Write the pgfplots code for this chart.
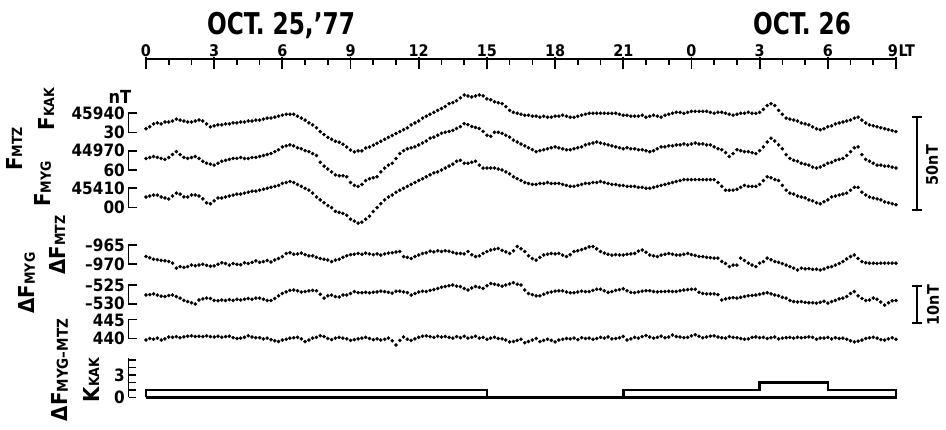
\documentclass[border=0pt]{standalone}
\usepackage{fontspec}
\setmainfont{DejaVu Sans Condensed}
\usepackage{pgfplots}
\pgfplotsset{compat=1.18}
\usepackage{pgfplotstable}

% 10-minute values, 0 LT Oct 25 to 9 LT Oct 26
\pgfplotstableread[row sep=\\]{v\\
45932\\45933\\45934.5\\45935\\45934.5\\45935.5\\45935.5\\45936\\45937\\45936.5\\
45936\\45935.5\\45935.5\\45936\\45936.5\\45936\\45934.5\\45933\\45933.5\\45934\\
45934\\45934.5\\45934.5\\45935\\45935\\45935.5\\45935.5\\45936\\45936\\45936.5\\
45936.5\\45937\\45937.5\\45937.5\\45938\\45938.5\\45939\\45939.5\\45939.5\\45939.5\\
45938.5\\45937.5\\45936.5\\45935\\45934\\45932.5\\45930.5\\45929\\45927.5\\45926.5\\
45925.5\\45925\\45924\\45922.5\\45921\\45920\\45920.5\\45920.5\\45922\\45922.5\\
45923.5\\45924.5\\45925.5\\45926.5\\45927.5\\45928.5\\45929.5\\45930.5\\45931.5\\45932.5\\
45934\\45935\\45936\\45937.5\\45938.5\\45939.5\\45940.5\\45941.5\\45942.5\\45943.5\\
45945\\45945.5\\45946.5\\45948\\45949.5\\45949\\45948.5\\45949\\45949.5\\45949\\
45947.5\\45947\\45946\\45945.5\\45945\\45943.5\\45941.5\\45940.5\\45940\\45939.5\\
45939\\45939\\45938.5\\45938.5\\45938\\45938.5\\45938\\45938\\45938.5\\45938.5\\
45939\\45938.5\\45938\\45938\\45938.5\\45939\\45939.5\\45940\\45940\\45940\\
45940\\45940\\45940\\45940\\45940\\45939.5\\45939\\45939\\45938.5\\45938.5\\
45938.5\\45939\\45938\\45938.5\\45939\\45938.5\\45938\\45939\\45939.5\\45940\\
45940.5\\45940.5\\45940\\45940.5\\45941\\45941\\45941\\45941\\45941\\45940.5\\
45940\\45940.5\\45940.5\\45940\\45939.5\\45939\\45939.5\\45940\\45940\\45940.5\\
45940\\45940\\45940.5\\45942\\45944\\45945\\45944\\45941.5\\45939.5\\45937.5\\
45937\\45936.5\\45936\\45935\\45934.5\\45934\\45933\\45932\\45931.5\\45932\\
45933\\45933.5\\45934.5\\45935\\45935.5\\45936\\45936.5\\45937.5\\45938\\45936.5\\
45935\\45934\\45933.5\\45933\\45932.5\\45932\\45931.5\\45931\\45930.5\\
}\kak

\pgfplotstableread[row sep=\\]{v\\
44966\\44966.5\\44967\\44966.5\\44966\\44965.5\\44966.5\\44968\\44969.5\\44968\\
44966.5\\44966\\44966.5\\44967\\44966\\44964.5\\44963.5\\44963\\44962.5\\44963.5\\
44964.5\\44965\\44965.5\\44966\\44966\\44966.5\\44966\\44966\\44966.5\\44966.5\\
44967\\44967.5\\44968\\44968.5\\44969.5\\44970.5\\44972\\44972.5\\44973\\44972.5\\
44971.5\\44971\\44970\\44969.5\\44968.5\\44967.5\\44964\\44962\\44960.5\\44959\\
44957.5\\44957\\44957\\44956.5\\44953.5\\44952\\44951.5\\44952.5\\44954.5\\44955.5\\
44956\\44956.5\\44959\\44961\\44962.5\\44963.5\\44966\\44968.5\\44970\\44971\\
44971.5\\44972\\44973\\44974\\44975\\44976.5\\44977\\44978\\44979\\44979.5\\
44980\\44980.5\\44981.5\\44982.5\\44984\\44983.5\\44982.5\\44982\\44981.5\\44980\\
44978\\44977.5\\44979.5\\44979.5\\44979\\44978\\44977\\44975.5\\44974.5\\44973.5\\
44972.5\\44971.5\\44970.5\\44969.5\\44970\\44970.5\\44971\\44971.5\\44972\\44971.5\\
44971\\44970.5\\44970.5\\44971\\44971.5\\44972\\44973\\44973.5\\44974\\44974.5\\
44974\\44973.5\\44973\\44972.5\\44972\\44971.5\\44971\\44971.5\\44971\\44971\\
44970.5\\44970.5\\44970\\44969.5\\44970\\44971\\44972\\44972\\44972.5\\44972.5\\
44973\\44973\\44973.5\\44973\\44973.5\\44974\\44973.5\\44973.5\\44973\\44973\\
44972\\44971\\44970.5\\44969\\44967\\44968.5\\44970.5\\44970\\44969.5\\44969.5\\
44969\\44968.5\\44970\\44972\\44974.5\\44976.5\\44975\\44973\\44971\\44968\\
44966\\44965\\44964.5\\44963.5\\44963\\44962.5\\44961.5\\44961\\44961.5\\44962.5\\
44963.5\\44964\\44965\\44965.5\\44966\\44967.5\\44969.5\\44971.5\\44972\\44968\\
44965.5\\44964.5\\44963.5\\44962.5\\44962.5\\44962\\44962\\44961.5\\44961\\
}\myg

\pgfplotstableread[row sep=\\]{v\\
45405.5\\45406\\45406.5\\45406.5\\45405.5\\45405\\45404.5\\45406\\45407.5\\45407\\
45405.5\\45405.5\\45406.5\\45406.5\\45406\\45404.5\\45402.5\\45402\\45403.5\\45405\\
45405\\45405.5\\45406\\45406.5\\45407\\45407\\45407.5\\45408\\45408.5\\45408.5\\
45409\\45409.5\\45410\\45410.5\\45411\\45411.5\\45412.5\\45413\\45413.5\\45413\\
45412\\45411\\45410\\45409\\45407.5\\45405.5\\45404\\45402.5\\45401\\45400\\
45398\\45397.5\\45397\\45396\\45394\\45393\\45392\\45392.5\\45394\\45395.5\\
45398\\45400\\45402\\45404\\45405.5\\45406.5\\45408\\45409\\45410\\45411\\
45412\\45413\\45414\\45415\\45416\\45417\\45418\\45418.5\\45419.5\\45420.5\\
45421.5\\45422.5\\45424\\45424.5\\45423\\45423\\45423.5\\45424\\45422\\45420.5\\
45420.5\\45420.5\\45420.5\\45420\\45419.5\\45418.5\\45417.5\\45416\\45415\\45414\\
45413\\45412.5\\45412\\45412\\45412.5\\45412.5\\45413\\45412.5\\45412.5\\45412.5\\
45412\\45411.5\\45411\\45411\\45411.5\\45412\\45412.5\\45412.5\\45413\\45413\\
45413.5\\45413\\45412.5\\45412\\45412\\45411.5\\45411.5\\45411\\45411\\45411\\
45410.5\\45410.5\\45410\\45410\\45410.5\\45411\\45411.5\\45412\\45412.5\\45413\\
45413.5\\45414\\45414.5\\45414.5\\45414.5\\45414.5\\45414.5\\45414.5\\45414.5\\45414.5\\
45414.5\\45413\\45411\\45409\\45409\\45409\\45409.5\\45410.5\\45411.5\\45411\\
45411\\45411\\45412\\45414\\45416\\45415.5\\45414.5\\45414\\45411.5\\45409\\
45407.5\\45407\\45406\\45405.5\\45405\\45404\\45403.5\\45402.5\\45402\\45403\\
45404\\45405.5\\45406\\45406.5\\45407\\45407.5\\45409\\45410.5\\45410.5\\45408\\
45406.5\\45405.5\\45405\\45404.5\\45404\\45403\\45402.5\\45402\\45401.5\\
}\mtz

\pgfplotstableread[row sep=\\]{v\\
-968\\-968.3\\-968.7\\-968.8\\-969\\-969.1\\-969.3\\-969.7\\-971\\-970.6\\
-970.8\\-970.6\\-970.2\\-970.4\\-970.2\\-970\\-970.3\\-970.5\\-970.4\\-970\\
-969.6\\-969.8\\-970.2\\-969.8\\-970\\-970.1\\-969.6\\-969.8\\-969.5\\-969.1\\
-969.5\\-969.3\\-969\\-969.4\\-968.9\\-968.5\\-968\\-967.2\\-967\\-967.4\\
-967.3\\-967.1\\-967.5\\-967.8\\-967.8\\-968.2\\-968.5\\-968.7\\-968.9\\-969.3\\
-968.9\\-968.7\\-968.2\\-967.8\\-967.5\\-967.4\\-967.2\\-967.4\\-967.1\\-967.3\\
-967.5\\-967.3\\-967.6\\-967.3\\-967.1\\-967\\-966.8\\-966.7\\-968\\-968.2\\
-968.5\\-968\\-967.6\\-967.2\\-967\\-966.6\\-966.8\\-966.5\\-966.7\\-966.5\\
-966.6\\-966.9\\-967.2\\-967.2\\-967.3\\-966.7\\-967.5\\-968\\-967.8\\-967.2\\
-966.7\\-966.3\\-966.1\\-965.9\\-966.4\\-966.8\\-967.2\\-966.5\\-965.4\\-966\\
-966.7\\-967.8\\-968.5\\-968.9\\-968.2\\-967.6\\-967.4\\-967.2\\-967.3\\-967.2\\
-967.6\\-968\\-967.5\\-966.7\\-966.5\\-966.2\\-965.9\\-965.5\\-965.4\\-966\\
-966.7\\-967.1\\-967.4\\-967.6\\-967.5\\-967.6\\-967.6\\-967.4\\-967.3\\-967.2\\
-966.6\\-966.3\\-966.9\\-967.6\\-967.8\\-968\\-967.6\\-967.4\\-967.2\\-967.4\\
-967.6\\-967.6\\-967.4\\-967.2\\-967.5\\-967.7\\-968\\-968\\-968.2\\-968.3\\
-968.4\\-968.4\\-969.3\\-969.8\\-970.6\\-970.2\\-970.2\\-968.4\\-969\\-969.7\\
-970.2\\-970.6\\-969.7\\-969.3\\-968.4\\-968.8\\-969.3\\-969.5\\-969.8\\-970.2\\
-970.6\\-971\\-971.5\\-971\\-971.2\\-971.1\\-971.3\\-971.3\\-971.5\\-971.2\\
-970.8\\-970.6\\-970.2\\-969.8\\-969.3\\-968.6\\-968\\-967.6\\-968.5\\-969.3\\
-969.6\\-969.7\\-969.7\\-969.8\\-969.7\\-969.7\\-969.7\\-969.7\\-969.7\\
}\dmyg

\pgfplotstableread[row sep=\\]{v\\
-527.6\\-527.5\\-527.3\\-527.6\\-527.9\\-528\\-527.7\\-527.6\\-528\\-528.4\\
-529\\-529.3\\-529.6\\-529.9\\-528.9\\-528.6\\-528.4\\-528.5\\-529\\-529.1\\
-528.9\\-529\\-528.8\\-529\\-528.7\\-528.9\\-528.7\\-528.5\\-528.7\\-528.4\\
-528.4\\-528.7\\-529\\-529\\-528.5\\-527.8\\-527.2\\-526.8\\-526.4\\-526.3\\
-526.5\\-526.8\\-526.7\\-526.5\\-526.4\\-526.5\\-527.4\\-528.4\\-527.8\\-527.6\\
-528\\-528.1\\-527.6\\-527.6\\-527.2\\-526.7\\-527\\-527\\-526.9\\-527\\
-526.9\\-526.8\\-526.6\\-526.7\\-526.9\\-527.1\\-526.6\\-526.6\\-526.8\\-527\\
-527.6\\-527.2\\-526.8\\-526.6\\-526.7\\-526.4\\-526.2\\-525.9\\-525.6\\-525.4\\
-525.2\\-525\\-525.3\\-525.4\\-525.9\\-526.3\\-525.8\\-525.4\\-525.6\\-525.9\\
-525.2\\-524.6\\-524.8\\-525\\-525.3\\-525\\-524.7\\-524.4\\-524.8\\-525\\
-526.3\\-527.2\\-527.5\\-527.8\\-527.8\\-527.4\\-527\\-526.8\\-526.6\\-526.5\\
-526.5\\-526.8\\-527\\-527\\-526.8\\-526.6\\-526.7\\-526.7\\-526.4\\-526.1\\
-526.1\\-526.5\\-526.9\\-526.7\\-526.4\\-526.2\\-526\\-526.5\\-526.9\\-527\\
-526.8\\-526.6\\-526.5\\-526.5\\-526.7\\-526.8\\-526.7\\-526.7\\-526.6\\-526.7\\
-526.7\\-526.5\\-526.3\\-526.2\\-526.1\\-526.1\\-526.9\\-527.2\\-527.3\\-527.3\\
-527.3\\-527.5\\-528.9\\-528.6\\-528.4\\-528.3\\-528.4\\-528.2\\-528\\-527.8\\
-527.7\\-527.6\\-527.4\\-527.2\\-527\\-527.3\\-527.6\\-527.8\\-528.2\\-528.4\\
-529\\-529.3\\-529.4\\-529.3\\-529.5\\-529.6\\-529.6\\-529.7\\-529.5\\-529.2\\
-529.7\\-529.3\\-529\\-528.6\\-528.4\\-528\\-527.2\\-526.7\\-527.8\\-528.5\\
-529\\-528.9\\-528.4\\-528.7\\-529.4\\-530.2\\-529.6\\-529.1\\-529\\
}\dmtz

\pgfplotstableread[row sep=\\]{v\\
439.6\\440\\439.8\\440.1\\439.6\\439.9\\440.4\\440.3\\440.5\\440.2\\
440.4\\440.6\\440.7\\440.5\\440.6\\440.5\\440.7\\440.5\\440.4\\440.6\\
440.3\\440.5\\440.6\\440.2\\440\\440.1\\440.3\\440.7\\440.4\\440.2\\
440.2\\439.9\\440.1\\439.7\\439.4\\439.2\\439.6\\439.8\\440.1\\440.2\\
440.3\\439.9\\439.2\\439.6\\440.1\\440.3\\440.7\\440.5\\440\\439.7\\
440.1\\440.3\\440.1\\439.9\\439.5\\439.7\\439.9\\440.1\\440.3\\440\\
439.7\\439.9\\439.6\\439.8\\440.1\\439.4\\438.3\\439.5\\440.4\\439.8\\
439.5\\439.9\\440.3\\440.6\\440.7\\440.5\\440.3\\440.6\\440.4\\440.5\\
440.3\\440.1\\440.5\\440.2\\440.6\\440.1\\440.3\\440.6\\440.1\\440.3\\
439.8\\440.1\\440.3\\440\\439.9\\439.6\\439.1\\439.2\\439.5\\439.8\\
438.9\\439.2\\439.6\\440\\439.2\\439.5\\439.8\\439.5\\439.1\\439.6\\
439.8\\440\\439.9\\440.1\\439.7\\440.2\\440\\440.1\\439.8\\440\\
440.3\\440.1\\440.4\\439.9\\440\\440.2\\440.5\\439.6\\439.9\\440.3\\
440.1\\440.5\\440.8\\440.4\\440.1\\440.3\\440.6\\440.2\\440.4\\440.9\\
440.5\\440.4\\440.2\\440.3\\440.7\\441\\440.6\\440.2\\440.4\\440.6\\
440.7\\440.4\\440.2\\440.1\\440.5\\440.3\\440.2\\440\\439.8\\439.9\\
440.3\\440.4\\440.2\\440.3\\440\\440.2\\440.4\\439.9\\440.1\\440.2\\
440.3\\440.1\\440.3\\440.2\\440.3\\440.4\\440.3\\439.8\\440.1\\440.1\\
440.3\\439.9\\440.2\\440\\440.1\\439.8\\439.4\\439.1\\439.3\\439.6\\
440\\440.2\\440.3\\440.1\\439.7\\439.6\\439.9\\440.2\\439.8\\
}\dmm

% 3-hourly K index, drawn as a closed step outline
\pgfplotstableread{
t K
0 0
0 1
3 1
6 1
9 1
12 1
15 0
18 0
21 1
24 1
27 2
30 1
33 0
0 0
}\kidx

\newcommand\ft[1]{\fontsize{#1}{#1}\selectfont\bfseries}
\newcommand\lab[4]{{\ft{#1}#2{\ft{#3}#4}}}

\begin{document}
\begin{tikzpicture}
\begin{axis}[at={(0,0)}, anchor=south west, scale only axis,
  width=946pt, height=430pt, hide axis, clip=false,
  xmin=-6.424, xmax=35.2, ymin=0, ymax=430,
  dots/.style={only marks, mark=*, mark size=1.6pt, black, mark options={fill=black}}]
\addplot[dots] table[x=v, y=v, x expr=\coordindex/6, y expr=316.7-(45940-\thisrow{v})*1.93] {\kak};
\addplot[dots] table[x=v, y=v, x expr=\coordindex/6, y expr=279.3-(44970-\thisrow{v})*1.93] {\myg};
\addplot[dots] table[x=v, y=v, x expr=\coordindex/6, y expr=241.7-(45410-\thisrow{v})*1.93] {\mtz};
\addplot[dots] table[x=v, y=v, x expr=\coordindex/6, y expr=185+(\thisrow{v}+965)*3.86] {\dmyg};
\addplot[dots] table[x=v, y=v, x expr=\coordindex/6, y expr=145+(\thisrow{v}+525)*3.86] {\dmtz};
\addplot[dots] table[x=v, y=v, x expr=\coordindex/6, y expr=110.5-(445-\thisrow{v})*3.8] {\dmm};
\addplot[const plot, no marks, line width=2.6pt, line join=miter, black]
  table[x=t, y=K, y expr=32.5+7.5*\thisrow{K}] {\kidx};
\end{axis}

\begin{scope}[shift={(0pt,430pt)}, x=1pt, y=-1pt, line cap=butt]
% time axis
\draw[line width=2pt] (145,59) -- (897,59);
\foreach \h in {0,...,33} \draw[line width=1.6pt] ({146+22.727*\h},59) -- ++(0,6.5);
\foreach \h/\l in {0/0,3/3,6/6,9/9,12/12,15/15,18/18,21/21,24/0,27/3,30/6}{
  \draw[line width=1.8pt] ({146+22.727*\h},57) -- ++(0,12.5);
  \node[anchor=base, inner sep=0pt] at ({146+22.727*\h},57) {\ft{16}\l};}
\draw[line width=1.8pt] (896,57) -- ++(0,12.5);
\node[anchor=base, inner sep=0pt] at (893,57) {\ft{16}9};
\node[anchor=base west, inner sep=0pt] at (898.5,57) {\ft{16}LT};
\node[anchor=base, inner sep=0pt, xscale=0.86] at (281,35) {\ft{30}OCT. 25,'77};
\node[anchor=base, inner sep=0pt, xscale=0.86] at (802,35) {\ft{30}OCT. 26};

% scale brackets
\foreach \a/\b in {113.3/132.6, 150.7/170, 188.3/207.6, 245/264.3, 285/304.3, 319.5/338.5}{
  \draw[line width=1.8pt, line join=miter] (137,\a) -- (128.5,\a) -- (128.5,\b) -- (137,\b);}
\draw[line width=1.8pt] (128.5,358) -- (128.5,397.5);
\foreach \k in {0,...,5} \draw[line width=1.6pt] (128.5,{397.5-7.5*\k}) -- ++(7,0);

\foreach \y/\l in {113.3/45940, 132.6/30, 150.7/44970, 170/60, 188.3/45410, 207.6/00,
  245/{--965}, 264.3/{--970}, 285/{--525}, 303.5/{--530}, 320.5/445, 338.5/440, 375/3, 397.5/0}
  \node[anchor=east, inner sep=0pt] at (125,\y) {\ft{17}\l};
\node[anchor=center] at (120,97) {\ft{18}nT};

% axis names
\node[rotate=90] at (14,149) {\lab{22}{F}{14}{MTZ}};
\node[rotate=90] at (46,109) {\lab{22}{F}{14}{KAK}};
\node[rotate=90] at (43,184) {\lab{22}{F}{14}{MYG}};
\node[rotate=90] at (57,245) {\lab{22}{ΔF}{14}{MTZ}};
\node[rotate=90] at (27,283) {\lab{22}{ΔF}{14}{MYG}};
\node[rotate=90] at (60,370) {\lab{22}{ΔF}{15}{MYG--MTZ}};
\node[rotate=90] at (91,380) {\lab{22}{K}{14}{KAK}};

% right scale bars
\draw[line width=1.8pt] (916.7,116.7) -- (916.7,210);
\draw[line width=1.8pt] (911.5,116.7) -- (922,116.7) (911.5,210) -- (922,210);
\node[rotate=90] at (932,165) {\ft{16}50nT};
\draw[line width=1.8pt] (916.7,286) -- (916.7,322.7);
\draw[line width=1.8pt] (911.5,286) -- (922,286) (911.5,322.7) -- (922,322.7);
\node[rotate=90] at (933,305) {\ft{16}10nT};
\end{scope}
\pgfresetboundingbox
\useasboundingbox (0,0) rectangle (946pt,430pt);
\end{tikzpicture}
\end{document}
